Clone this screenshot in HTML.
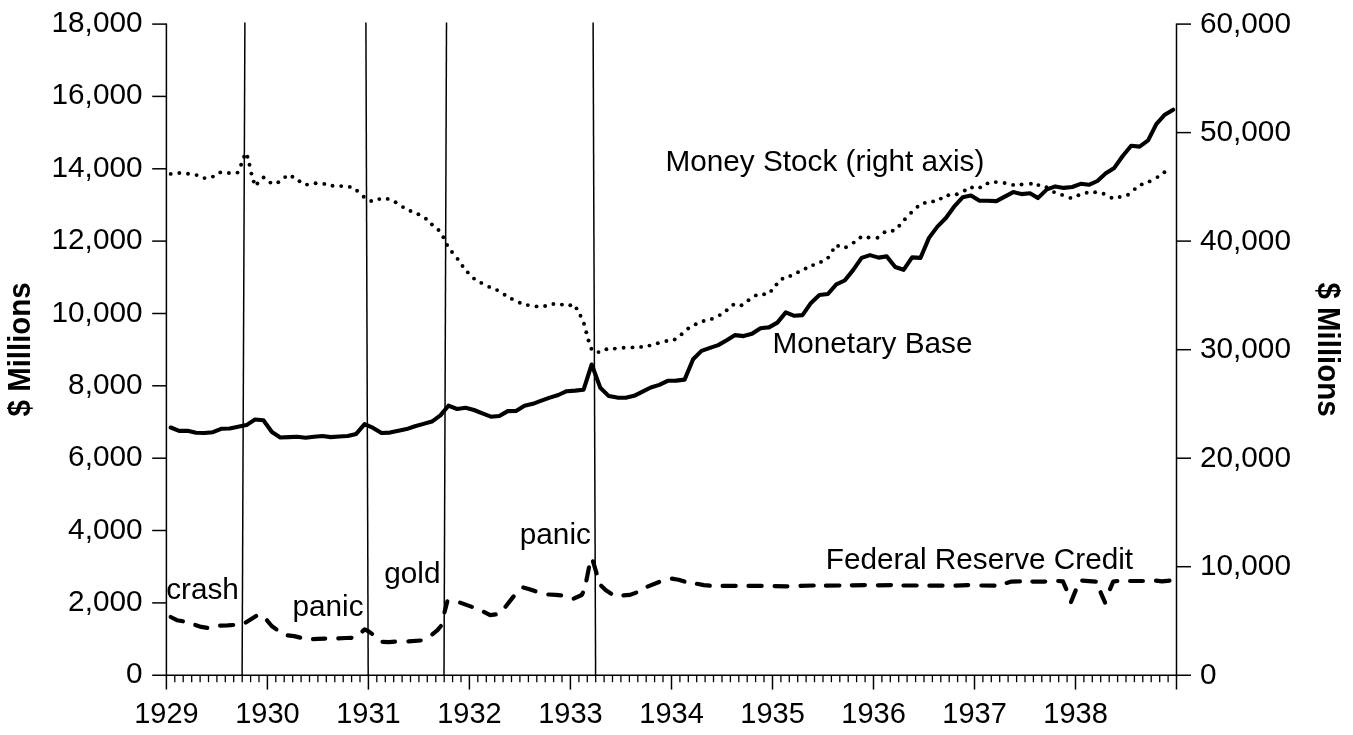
<!DOCTYPE html>
<html lang="en">
<head>
<meta charset="utf-8">
<title>Monetary Base, Money Stock and Federal Reserve Credit, 1929-1938</title>
<style>
html,body{margin:0;padding:0;background:#fff;}
body{width:1353px;height:735px;overflow:hidden;}
svg{display:block;}
</style>
</head>
<body>
<svg width="1353" height="735" viewBox="0 0 1353 735">
<rect width="1353" height="735" fill="#fff"/>
<g stroke="#000" stroke-width="1.5" fill="none" stroke-linecap="butt">
<path d="M166.4 23.5 V689.6"/>
<path d="M1176.5 23.5 V689.6"/>
<path d="M152.2 675.2 H1191.0"/>
<path d="M152.2 602.9 H166.4"/>
<path d="M152.2 530.5 H166.4"/>
<path d="M152.2 458.2 H166.4"/>
<path d="M152.2 385.8 H166.4"/>
<path d="M152.2 313.5 H166.4"/>
<path d="M152.2 241.1 H166.4"/>
<path d="M152.2 168.8 H166.4"/>
<path d="M152.2 96.4 H166.4"/>
<path d="M152.2 24.1 H166.4"/>
<path d="M1176.5 566.7 H1191"/>
<path d="M1176.5 458.2 H1191"/>
<path d="M1176.5 349.7 H1191"/>
<path d="M1176.5 241.1 H1191"/>
<path d="M1176.5 132.6 H1191"/>
<path d="M1176.5 24.1 H1191"/>
<path d="M174.8 675.2 V682.2" stroke-width="1.3"/>
<path d="M183.2 675.2 V682.2" stroke-width="1.3"/>
<path d="M191.7 675.2 V682.2" stroke-width="1.3"/>
<path d="M200.1 675.2 V682.2" stroke-width="1.3"/>
<path d="M208.5 675.2 V682.2" stroke-width="1.3"/>
<path d="M216.9 675.2 V682.2" stroke-width="1.3"/>
<path d="M225.3 675.2 V682.2" stroke-width="1.3"/>
<path d="M233.7 675.2 V682.2" stroke-width="1.3"/>
<path d="M242.2 675.2 V682.2" stroke-width="1.3"/>
<path d="M250.6 675.2 V682.2" stroke-width="1.3"/>
<path d="M259.0 675.2 V682.2" stroke-width="1.3"/>
<path d="M267.4 675.2 V689.6"/>
<path d="M275.8 675.2 V682.2" stroke-width="1.3"/>
<path d="M284.2 675.2 V682.2" stroke-width="1.3"/>
<path d="M292.7 675.2 V682.2" stroke-width="1.3"/>
<path d="M301.1 675.2 V682.2" stroke-width="1.3"/>
<path d="M309.5 675.2 V682.2" stroke-width="1.3"/>
<path d="M317.9 675.2 V682.2" stroke-width="1.3"/>
<path d="M326.3 675.2 V682.2" stroke-width="1.3"/>
<path d="M334.8 675.2 V682.2" stroke-width="1.3"/>
<path d="M343.2 675.2 V682.2" stroke-width="1.3"/>
<path d="M351.6 675.2 V682.2" stroke-width="1.3"/>
<path d="M360.0 675.2 V682.2" stroke-width="1.3"/>
<path d="M368.4 675.2 V689.6"/>
<path d="M376.8 675.2 V682.2" stroke-width="1.3"/>
<path d="M385.3 675.2 V682.2" stroke-width="1.3"/>
<path d="M393.7 675.2 V682.2" stroke-width="1.3"/>
<path d="M402.1 675.2 V682.2" stroke-width="1.3"/>
<path d="M410.5 675.2 V682.2" stroke-width="1.3"/>
<path d="M418.9 675.2 V682.2" stroke-width="1.3"/>
<path d="M427.3 675.2 V682.2" stroke-width="1.3"/>
<path d="M435.8 675.2 V682.2" stroke-width="1.3"/>
<path d="M444.2 675.2 V682.2" stroke-width="1.3"/>
<path d="M452.6 675.2 V682.2" stroke-width="1.3"/>
<path d="M461.0 675.2 V682.2" stroke-width="1.3"/>
<path d="M469.4 675.2 V689.6"/>
<path d="M477.8 675.2 V682.2" stroke-width="1.3"/>
<path d="M486.3 675.2 V682.2" stroke-width="1.3"/>
<path d="M494.7 675.2 V682.2" stroke-width="1.3"/>
<path d="M503.1 675.2 V682.2" stroke-width="1.3"/>
<path d="M511.5 675.2 V682.2" stroke-width="1.3"/>
<path d="M519.9 675.2 V682.2" stroke-width="1.3"/>
<path d="M528.4 675.2 V682.2" stroke-width="1.3"/>
<path d="M536.8 675.2 V682.2" stroke-width="1.3"/>
<path d="M545.2 675.2 V682.2" stroke-width="1.3"/>
<path d="M553.6 675.2 V682.2" stroke-width="1.3"/>
<path d="M562.0 675.2 V682.2" stroke-width="1.3"/>
<path d="M570.4 675.2 V689.6"/>
<path d="M578.9 675.2 V682.2" stroke-width="1.3"/>
<path d="M587.3 675.2 V682.2" stroke-width="1.3"/>
<path d="M595.7 675.2 V682.2" stroke-width="1.3"/>
<path d="M604.1 675.2 V682.2" stroke-width="1.3"/>
<path d="M612.5 675.2 V682.2" stroke-width="1.3"/>
<path d="M620.9 675.2 V682.2" stroke-width="1.3"/>
<path d="M629.4 675.2 V682.2" stroke-width="1.3"/>
<path d="M637.8 675.2 V682.2" stroke-width="1.3"/>
<path d="M646.2 675.2 V682.2" stroke-width="1.3"/>
<path d="M654.6 675.2 V682.2" stroke-width="1.3"/>
<path d="M663.0 675.2 V682.2" stroke-width="1.3"/>
<path d="M671.5 675.2 V689.6"/>
<path d="M679.9 675.2 V682.2" stroke-width="1.3"/>
<path d="M688.3 675.2 V682.2" stroke-width="1.3"/>
<path d="M696.7 675.2 V682.2" stroke-width="1.3"/>
<path d="M705.1 675.2 V682.2" stroke-width="1.3"/>
<path d="M713.5 675.2 V682.2" stroke-width="1.3"/>
<path d="M722.0 675.2 V682.2" stroke-width="1.3"/>
<path d="M730.4 675.2 V682.2" stroke-width="1.3"/>
<path d="M738.8 675.2 V682.2" stroke-width="1.3"/>
<path d="M747.2 675.2 V682.2" stroke-width="1.3"/>
<path d="M755.6 675.2 V682.2" stroke-width="1.3"/>
<path d="M764.0 675.2 V682.2" stroke-width="1.3"/>
<path d="M772.5 675.2 V689.6"/>
<path d="M780.9 675.2 V682.2" stroke-width="1.3"/>
<path d="M789.3 675.2 V682.2" stroke-width="1.3"/>
<path d="M797.7 675.2 V682.2" stroke-width="1.3"/>
<path d="M806.1 675.2 V682.2" stroke-width="1.3"/>
<path d="M814.5 675.2 V682.2" stroke-width="1.3"/>
<path d="M823.0 675.2 V682.2" stroke-width="1.3"/>
<path d="M831.4 675.2 V682.2" stroke-width="1.3"/>
<path d="M839.8 675.2 V682.2" stroke-width="1.3"/>
<path d="M848.2 675.2 V682.2" stroke-width="1.3"/>
<path d="M856.6 675.2 V682.2" stroke-width="1.3"/>
<path d="M865.1 675.2 V682.2" stroke-width="1.3"/>
<path d="M873.5 675.2 V689.6"/>
<path d="M881.9 675.2 V682.2" stroke-width="1.3"/>
<path d="M890.3 675.2 V682.2" stroke-width="1.3"/>
<path d="M898.7 675.2 V682.2" stroke-width="1.3"/>
<path d="M907.1 675.2 V682.2" stroke-width="1.3"/>
<path d="M915.6 675.2 V682.2" stroke-width="1.3"/>
<path d="M924.0 675.2 V682.2" stroke-width="1.3"/>
<path d="M932.4 675.2 V682.2" stroke-width="1.3"/>
<path d="M940.8 675.2 V682.2" stroke-width="1.3"/>
<path d="M949.2 675.2 V682.2" stroke-width="1.3"/>
<path d="M957.6 675.2 V682.2" stroke-width="1.3"/>
<path d="M966.1 675.2 V682.2" stroke-width="1.3"/>
<path d="M974.5 675.2 V689.6"/>
<path d="M982.9 675.2 V682.2" stroke-width="1.3"/>
<path d="M991.3 675.2 V682.2" stroke-width="1.3"/>
<path d="M999.7 675.2 V682.2" stroke-width="1.3"/>
<path d="M1008.1 675.2 V682.2" stroke-width="1.3"/>
<path d="M1016.6 675.2 V682.2" stroke-width="1.3"/>
<path d="M1025.0 675.2 V682.2" stroke-width="1.3"/>
<path d="M1033.4 675.2 V682.2" stroke-width="1.3"/>
<path d="M1041.8 675.2 V682.2" stroke-width="1.3"/>
<path d="M1050.2 675.2 V682.2" stroke-width="1.3"/>
<path d="M1058.7 675.2 V682.2" stroke-width="1.3"/>
<path d="M1067.1 675.2 V682.2" stroke-width="1.3"/>
<path d="M1075.5 675.2 V689.6"/>
<path d="M1083.9 675.2 V682.2" stroke-width="1.3"/>
<path d="M1092.3 675.2 V682.2" stroke-width="1.3"/>
<path d="M1100.7 675.2 V682.2" stroke-width="1.3"/>
<path d="M1109.2 675.2 V682.2" stroke-width="1.3"/>
<path d="M1117.6 675.2 V682.2" stroke-width="1.3"/>
<path d="M1126.0 675.2 V682.2" stroke-width="1.3"/>
<path d="M1134.4 675.2 V682.2" stroke-width="1.3"/>
<path d="M1142.8 675.2 V682.2" stroke-width="1.3"/>
<path d="M1151.2 675.2 V682.2" stroke-width="1.3"/>
<path d="M1159.7 675.2 V682.2" stroke-width="1.3"/>
<path d="M1168.1 675.2 V682.2" stroke-width="1.3"/>
<path d="M244.9 22.6 L242.1 675.2"/>
<path d="M365.9 22.6 L368.2 675.2"/>
<path d="M446.5 22.6 L444.0 675.2"/>
<path d="M593.1 22.6 L595.6 675.2"/>
</g>
<g fill="#000">
<circle cx="170.7" cy="173.9" r="1.95"/>
<circle cx="179.3" cy="173.0" r="1.95"/>
<circle cx="188.0" cy="173.7" r="1.95"/>
<circle cx="196.6" cy="175.1" r="1.95"/>
<circle cx="204.5" cy="178.1" r="1.95"/>
<circle cx="212.9" cy="176.6" r="1.95"/>
<circle cx="220.3" cy="172.4" r="1.95"/>
<circle cx="228.9" cy="173.0" r="1.95"/>
<circle cx="237.5" cy="172.6" r="1.95"/>
<circle cx="241.1" cy="164.7" r="1.95"/>
<circle cx="244.1" cy="156.8" r="1.95"/>
<circle cx="247.5" cy="156.7" r="1.95"/>
<circle cx="249.5" cy="164.7" r="1.95"/>
<circle cx="251.4" cy="173.6" r="1.95"/>
<circle cx="253.7" cy="181.6" r="1.95"/>
<circle cx="257.4" cy="183.5" r="1.95"/>
<circle cx="263.6" cy="177.5" r="1.95"/>
<circle cx="270.4" cy="182.6" r="1.95"/>
<circle cx="278.3" cy="182.2" r="1.95"/>
<circle cx="285.2" cy="177.1" r="1.95"/>
<circle cx="292.4" cy="176.7" r="1.95"/>
<circle cx="299.5" cy="181.3" r="1.95"/>
<circle cx="307.0" cy="184.6" r="1.95"/>
<circle cx="315.6" cy="183.3" r="1.95"/>
<circle cx="324.3" cy="183.9" r="1.95"/>
<circle cx="332.5" cy="185.8" r="1.95"/>
<circle cx="341.2" cy="186.1" r="1.95"/>
<circle cx="349.8" cy="186.9" r="1.95"/>
<circle cx="357.1" cy="190.8" r="1.95"/>
<circle cx="363.7" cy="196.8" r="1.95"/>
<circle cx="371.2" cy="201.0" r="1.95"/>
<circle cx="379.3" cy="199.1" r="1.95"/>
<circle cx="387.7" cy="198.9" r="1.95"/>
<circle cx="395.6" cy="202.3" r="1.95"/>
<circle cx="403.0" cy="207.1" r="1.95"/>
<circle cx="410.5" cy="211.0" r="1.95"/>
<circle cx="418.4" cy="214.2" r="1.95"/>
<circle cx="425.9" cy="218.7" r="1.95"/>
<circle cx="431.9" cy="224.5" r="1.95"/>
<circle cx="438.5" cy="230.0" r="1.95"/>
<circle cx="443.4" cy="237.3" r="1.95"/>
<circle cx="447.1" cy="245.0" r="1.95"/>
<circle cx="452.0" cy="252.0" r="1.95"/>
<circle cx="457.6" cy="258.9" r="1.95"/>
<circle cx="462.5" cy="266.0" r="1.95"/>
<circle cx="467.8" cy="272.4" r="1.95"/>
<circle cx="474.0" cy="278.6" r="1.95"/>
<circle cx="481.3" cy="282.9" r="1.95"/>
<circle cx="489.2" cy="286.9" r="1.95"/>
<circle cx="497.1" cy="290.1" r="1.95"/>
<circle cx="504.6" cy="294.8" r="1.95"/>
<circle cx="511.9" cy="298.9" r="1.95"/>
<circle cx="519.8" cy="302.8" r="1.95"/>
<circle cx="527.8" cy="305.1" r="1.95"/>
<circle cx="536.5" cy="306.4" r="1.95"/>
<circle cx="545.1" cy="306.0" r="1.95"/>
<circle cx="553.4" cy="304.0" r="1.95"/>
<circle cx="561.9" cy="304.6" r="1.95"/>
<circle cx="570.3" cy="305.2" r="1.95"/>
<circle cx="576.5" cy="308.4" r="1.95"/>
<circle cx="580.5" cy="315.7" r="1.95"/>
<circle cx="584.0" cy="323.8" r="1.95"/>
<circle cx="586.3" cy="332.2" r="1.95"/>
<circle cx="588.5" cy="340.5" r="1.95"/>
<circle cx="591.4" cy="348.7" r="1.95"/>
<circle cx="598.5" cy="352.1" r="1.95"/>
<circle cx="606.4" cy="349.3" r="1.95"/>
<circle cx="614.8" cy="348.6" r="1.95"/>
<circle cx="623.6" cy="347.8" r="1.95"/>
<circle cx="632.5" cy="347.4" r="1.95"/>
<circle cx="641.1" cy="346.9" r="1.95"/>
<circle cx="649.5" cy="345.6" r="1.95"/>
<circle cx="657.8" cy="343.3" r="1.95"/>
<circle cx="666.4" cy="341.0" r="1.95"/>
<circle cx="674.7" cy="339.5" r="1.95"/>
<circle cx="681.6" cy="334.3" r="1.95"/>
<circle cx="688.2" cy="328.5" r="1.95"/>
<circle cx="695.7" cy="324.3" r="1.95"/>
<circle cx="703.6" cy="321.0" r="1.95"/>
<circle cx="711.9" cy="318.9" r="1.95"/>
<circle cx="719.8" cy="315.1" r="1.95"/>
<circle cx="726.7" cy="310.3" r="1.95"/>
<circle cx="733.3" cy="304.8" r="1.95"/>
<circle cx="741.5" cy="305.2" r="1.95"/>
<circle cx="748.5" cy="300.3" r="1.95"/>
<circle cx="755.8" cy="295.4" r="1.95"/>
<circle cx="764.1" cy="294.3" r="1.95"/>
<circle cx="771.2" cy="290.9" r="1.95"/>
<circle cx="776.5" cy="284.5" r="1.95"/>
<circle cx="782.5" cy="278.7" r="1.95"/>
<circle cx="790.3" cy="275.9" r="1.95"/>
<circle cx="798.0" cy="272.3" r="1.95"/>
<circle cx="805.6" cy="268.5" r="1.95"/>
<circle cx="813.1" cy="265.1" r="1.95"/>
<circle cx="821.0" cy="261.9" r="1.95"/>
<circle cx="828.2" cy="257.6" r="1.95"/>
<circle cx="832.9" cy="250.1" r="1.95"/>
<circle cx="838.1" cy="245.9" r="1.95"/>
<circle cx="846.0" cy="247.2" r="1.95"/>
<circle cx="853.7" cy="242.6" r="1.95"/>
<circle cx="860.4" cy="237.5" r="1.95"/>
<circle cx="868.5" cy="237.5" r="1.95"/>
<circle cx="877.5" cy="237.7" r="1.95"/>
<circle cx="884.5" cy="232.2" r="1.95"/>
<circle cx="892.7" cy="230.7" r="1.95"/>
<circle cx="899.3" cy="225.7" r="1.95"/>
<circle cx="904.9" cy="219.3" r="1.95"/>
<circle cx="911.1" cy="212.7" r="1.95"/>
<circle cx="917.5" cy="206.7" r="1.95"/>
<circle cx="924.8" cy="202.9" r="1.95"/>
<circle cx="933.1" cy="201.4" r="1.95"/>
<circle cx="940.8" cy="198.6" r="1.95"/>
<circle cx="948.3" cy="195.2" r="1.95"/>
<circle cx="956.8" cy="194.3" r="1.95"/>
<circle cx="964.8" cy="190.5" r="1.95"/>
<circle cx="972.0" cy="187.5" r="1.95"/>
<circle cx="980.2" cy="187.4" r="1.95"/>
<circle cx="987.5" cy="183.4" r="1.95"/>
<circle cx="995.8" cy="182.1" r="1.95"/>
<circle cx="1004.6" cy="183.0" r="1.95"/>
<circle cx="1013.1" cy="184.9" r="1.95"/>
<circle cx="1021.5" cy="184.5" r="1.95"/>
<circle cx="1030.9" cy="183.8" r="1.95"/>
<circle cx="1038.4" cy="185.1" r="1.95"/>
<circle cx="1046.5" cy="187.2" r="1.95"/>
<circle cx="1054.0" cy="192.1" r="1.95"/>
<circle cx="1062.1" cy="194.9" r="1.95"/>
<circle cx="1070.4" cy="197.9" r="1.95"/>
<circle cx="1078.4" cy="195.3" r="1.95"/>
<circle cx="1086.7" cy="192.8" r="1.95"/>
<circle cx="1095.1" cy="192.3" r="1.95"/>
<circle cx="1103.6" cy="193.8" r="1.95"/>
<circle cx="1111.5" cy="197.7" r="1.95"/>
<circle cx="1119.7" cy="197.0" r="1.95"/>
<circle cx="1128.0" cy="194.7" r="1.95"/>
<circle cx="1134.8" cy="189.1" r="1.95"/>
<circle cx="1141.7" cy="184.4" r="1.95"/>
<circle cx="1149.6" cy="181.4" r="1.95"/>
<circle cx="1157.5" cy="177.1" r="1.95"/>
<circle cx="1164.4" cy="172.2" r="1.95"/>
</g>
<path d="M170.7 427.5 L179.1 430.9 L187.6 430.7 L196.0 432.8 L204.5 433.0 L212.9 432.2 L221.2 428.8 L229.6 428.5 L238.1 426.8 L246.5 425.1 L255.0 419.5 L263.4 420.2 L271.9 432.0 L280.3 437.5 L288.8 437.1 L297.2 436.7 L305.7 437.7 L313.9 436.7 L322.4 436.0 L330.8 437.1 L339.3 436.5 L347.7 436.0 L356.2 433.9 L364.6 424.2 L373.1 427.9 L381.5 433.0 L390.0 432.6 L398.4 430.7 L406.6 429.1 L415.0 426.3 L423.5 423.9 L431.9 421.6 L440.4 415.4 L448.4 405.7 L457.1 409.0 L465.5 407.7 L474.0 410.0 L482.4 413.4 L490.9 416.7 L499.3 416.0 L507.8 411.1 L516.0 410.9 L524.5 405.7 L532.9 403.8 L541.4 400.6 L549.8 397.6 L558.3 395.0 L566.7 391.2 L575.2 390.6 L583.6 389.7 L591.7 364.5 L600.3 387.8 L608.8 396.1 L617.2 397.6 L625.7 397.8 L634.1 395.8 L642.6 391.6 L650.8 387.5 L659.3 384.9 L667.7 380.8 L676.2 380.6 L684.6 379.6 L693.1 359.2 L701.5 350.9 L710.0 347.9 L718.2 345.1 L726.7 340.2 L735.1 335.1 L743.6 336.1 L752.0 333.8 L760.5 328.2 L768.9 327.4 L777.4 322.6 L785.8 312.4 L794.3 315.8 L802.5 315.1 L811.0 302.9 L819.4 295.0 L827.9 294.0 L836.3 284.3 L844.7 280.5 L853.1 270.1 L861.6 257.9 L870.0 255.1 L878.5 257.6 L886.7 256.4 L895.2 267.0 L903.6 269.8 L912.1 257.4 L920.5 257.9 L929.0 237.9 L937.4 226.6 L945.9 218.0 L954.1 206.7 L962.6 197.3 L971.0 195.6 L979.5 200.7 L987.9 200.7 L996.4 201.1 L1004.8 196.6 L1013.3 192.1 L1021.5 194.1 L1030.0 193.2 L1037.9 198.1 L1046.9 189.4 L1055.3 186.4 L1063.8 187.9 L1072.2 187.0 L1080.7 183.8 L1088.9 184.8 L1097.4 181.0 L1105.8 173.3 L1114.3 167.9 L1122.7 156.0 L1131.2 145.7 L1139.6 146.6 L1148.1 140.4 L1156.3 124.1 L1164.8 114.7 L1173.2 109.7" fill="none" stroke="#000" stroke-width="4.1" stroke-linejoin="round" stroke-linecap="round"/>
<g fill="none" stroke="#000" stroke-width="4.2" stroke-linejoin="round" stroke-linecap="round">
<path d="M170.7 617.0 L176.9 620.2 L182.9 621.3"/>
<path d="M195.3 624.9 L201.3 626.9 L207.3 627.9"/>
<path d="M220.1 625.6 L227.6 625.4 L233.2 625.0"/>
<path d="M245.8 622.6 L256.1 616.0"/>
<path d="M267.0 620.3 L271.7 626.0 L276.4 629.4"/>
<path d="M287.7 635.4 L294.2 636.1 L300.2 637.6"/>
<path d="M313.0 639.1 L317.7 638.9 L325.2 638.6"/>
<path d="M338.3 638.4 L345.9 638.0 L351.5 637.8"/>
<path d="M362.4 631.4 L364.6 629.4 L368.0 631.0 L372.1 633.9"/>
<path d="M382.5 641.9 L389.0 642.1 L395.0 641.6"/>
<path d="M408.4 641.4 L420.7 640.5"/>
<path d="M432.3 634.3 L437.5 630.1 L440.9 626.0"/>
<path d="M444.5 612.3 L447.3 601.4"/>
<path d="M460.1 602.6 L471.9 606.9"/>
<path d="M483.9 611.9 L490.1 615.1 L495.7 614.4"/>
<path d="M505.5 606.7 L513.6 596.4"/>
<path d="M523.3 587.5 L529.5 589.2 L535.5 591.3"/>
<path d="M548.3 594.5 L555.8 594.9 L561.1 595.4"/>
<path d="M573.7 598.6 L581.7 595.0 L583.0 592.6"/>
<path d="M586.4 580.4 L589.0 567.3"/>
<path d="M593.0 561.3 L596.6 573.3"/>
<path d="M601.2 585.7 L605.9 590.3 L611.2 593.7"/>
<path d="M623.4 595.4 L630.0 594.9 L636.2 592.6"/>
<path d="M647.5 586.6 L659.1 582.0"/>
<path d="M671.9 578.6 L678.5 579.7 L684.5 581.6"/>
<path d="M696.9 583.8 L703.8 585.1 L709.8 585.7"/>
<path d="M722.6 585.9 L735.7 585.9"/>
<path d="M748.5 585.9 L761.6 585.9"/>
<path d="M774.6 586.1 L787.4 586.3"/>
<path d="M800.5 585.9 L813.7 585.5"/>
<path d="M825.9 585.7 L839.4 585.5"/>
<path d="M851.8 585.3 L864.9 585.1"/>
<path d="M877.9 585.3 L891.0 585.1"/>
<path d="M903.5 585.5 L916.6 585.5"/>
<path d="M929.4 585.7 L942.5 585.7"/>
<path d="M955.5 585.7 L968.2 585.1"/>
<path d="M981.4 585.5 L994.5 585.7"/>
<path d="M1006.7 582.9 L1011.4 581.6 L1019.9 581.4"/>
<path d="M1032.4 581.6 L1045.2 581.6"/>
<path d="M1058.2 581.0 L1062.9 581.4 L1066.3 589.1"/>
<path d="M1075.7 590.4 L1071.0 602.0"/>
<path d="M1082.2 580.6 L1095.8 581.6"/>
<path d="M1100.6 592.3 L1105.1 602.6"/>
<path d="M1110.0 589.1 L1113.2 581.6 L1117.3 581.0"/>
<path d="M1130.1 581.0 L1142.9 581.0"/>
<path d="M1156.0 580.6 L1162.0 581.4 L1169.5 580.6"/>
</g>
<g font-family="'Liberation Sans', Arial, Helvetica, sans-serif" font-size="29.6" fill="#000">
<text transform="translate(142.5 683.2) scale(1.005 1)" text-anchor="end">0</text>
<text transform="translate(142.5 610.9) scale(1.005 1)" text-anchor="end">2,000</text>
<text transform="translate(142.5 538.5) scale(1.005 1)" text-anchor="end">4,000</text>
<text transform="translate(142.5 466.2) scale(1.005 1)" text-anchor="end">6,000</text>
<text transform="translate(142.5 393.8) scale(1.005 1)" text-anchor="end">8,000</text>
<text transform="translate(142.5 321.5) scale(1.005 1)" text-anchor="end">10,000</text>
<text transform="translate(142.5 249.1) scale(1.005 1)" text-anchor="end">12,000</text>
<text transform="translate(142.5 176.8) scale(1.005 1)" text-anchor="end">14,000</text>
<text transform="translate(142.5 104.4) scale(1.005 1)" text-anchor="end">16,000</text>
<text transform="translate(142.5 32.1) scale(1.005 1)" text-anchor="end">18,000</text>
<text transform="translate(1200.0 683.9) scale(1.005 1)" text-anchor="start">0</text>
<text transform="translate(1200.0 575.4) scale(1.005 1)" text-anchor="start">10,000</text>
<text transform="translate(1200.0 466.9) scale(1.005 1)" text-anchor="start">20,000</text>
<text transform="translate(1200.0 358.4) scale(1.005 1)" text-anchor="start">30,000</text>
<text transform="translate(1200.0 249.8) scale(1.005 1)" text-anchor="start">40,000</text>
<text transform="translate(1200.0 141.3) scale(1.005 1)" text-anchor="start">50,000</text>
<text transform="translate(1200.0 32.8) scale(1.005 1)" text-anchor="start">60,000</text>
<text transform="translate(166.4 722.8) scale(1.000 1)" text-anchor="middle" font-size="29.0">1929</text>
<text transform="translate(267.4 722.8) scale(1.000 1)" text-anchor="middle" font-size="29.0">1930</text>
<text transform="translate(368.4 722.8) scale(1.000 1)" text-anchor="middle" font-size="29.0">1931</text>
<text transform="translate(469.4 722.8) scale(1.000 1)" text-anchor="middle" font-size="29.0">1932</text>
<text transform="translate(570.4 722.8) scale(1.000 1)" text-anchor="middle" font-size="29.0">1933</text>
<text transform="translate(671.5 722.8) scale(1.000 1)" text-anchor="middle" font-size="29.0">1934</text>
<text transform="translate(772.5 722.8) scale(1.000 1)" text-anchor="middle" font-size="29.0">1935</text>
<text transform="translate(873.5 722.8) scale(1.000 1)" text-anchor="middle" font-size="29.0">1936</text>
<text transform="translate(974.5 722.8) scale(1.000 1)" text-anchor="middle" font-size="29.0">1937</text>
<text transform="translate(1075.5 722.8) scale(1.000 1)" text-anchor="middle" font-size="29.0">1938</text>
<text transform="translate(665.5 170.5) scale(1.005 1)" text-anchor="start">Money Stock (right axis)</text>
<text transform="translate(772.5 352.6) scale(1.005 1)" text-anchor="start">Monetary Base</text>
<text transform="translate(825.8 569.0) scale(1.005 1)" text-anchor="start">Federal Reserve Credit</text>
<text transform="translate(166.2 598.6) scale(1.005 1)" text-anchor="start">crash</text>
<text transform="translate(292.5 616.1) scale(1.005 1)" text-anchor="start">panic</text>
<text transform="translate(384.3 583.1) scale(1.005 1)" text-anchor="start">gold</text>
<text transform="translate(519.8 544.2) scale(1.005 1)" text-anchor="start">panic</text>
<text transform="translate(30.4 349.4) rotate(-90) scale(0.943 1)" text-anchor="middle" font-weight="bold" font-size="31.2">$ Millions</text>
<text transform="translate(1318.3 349.5) rotate(90) scale(0.943 1)" text-anchor="middle" font-weight="bold" font-size="31.2">$ Millions</text>
</g>
</svg>
</body>
</html>
